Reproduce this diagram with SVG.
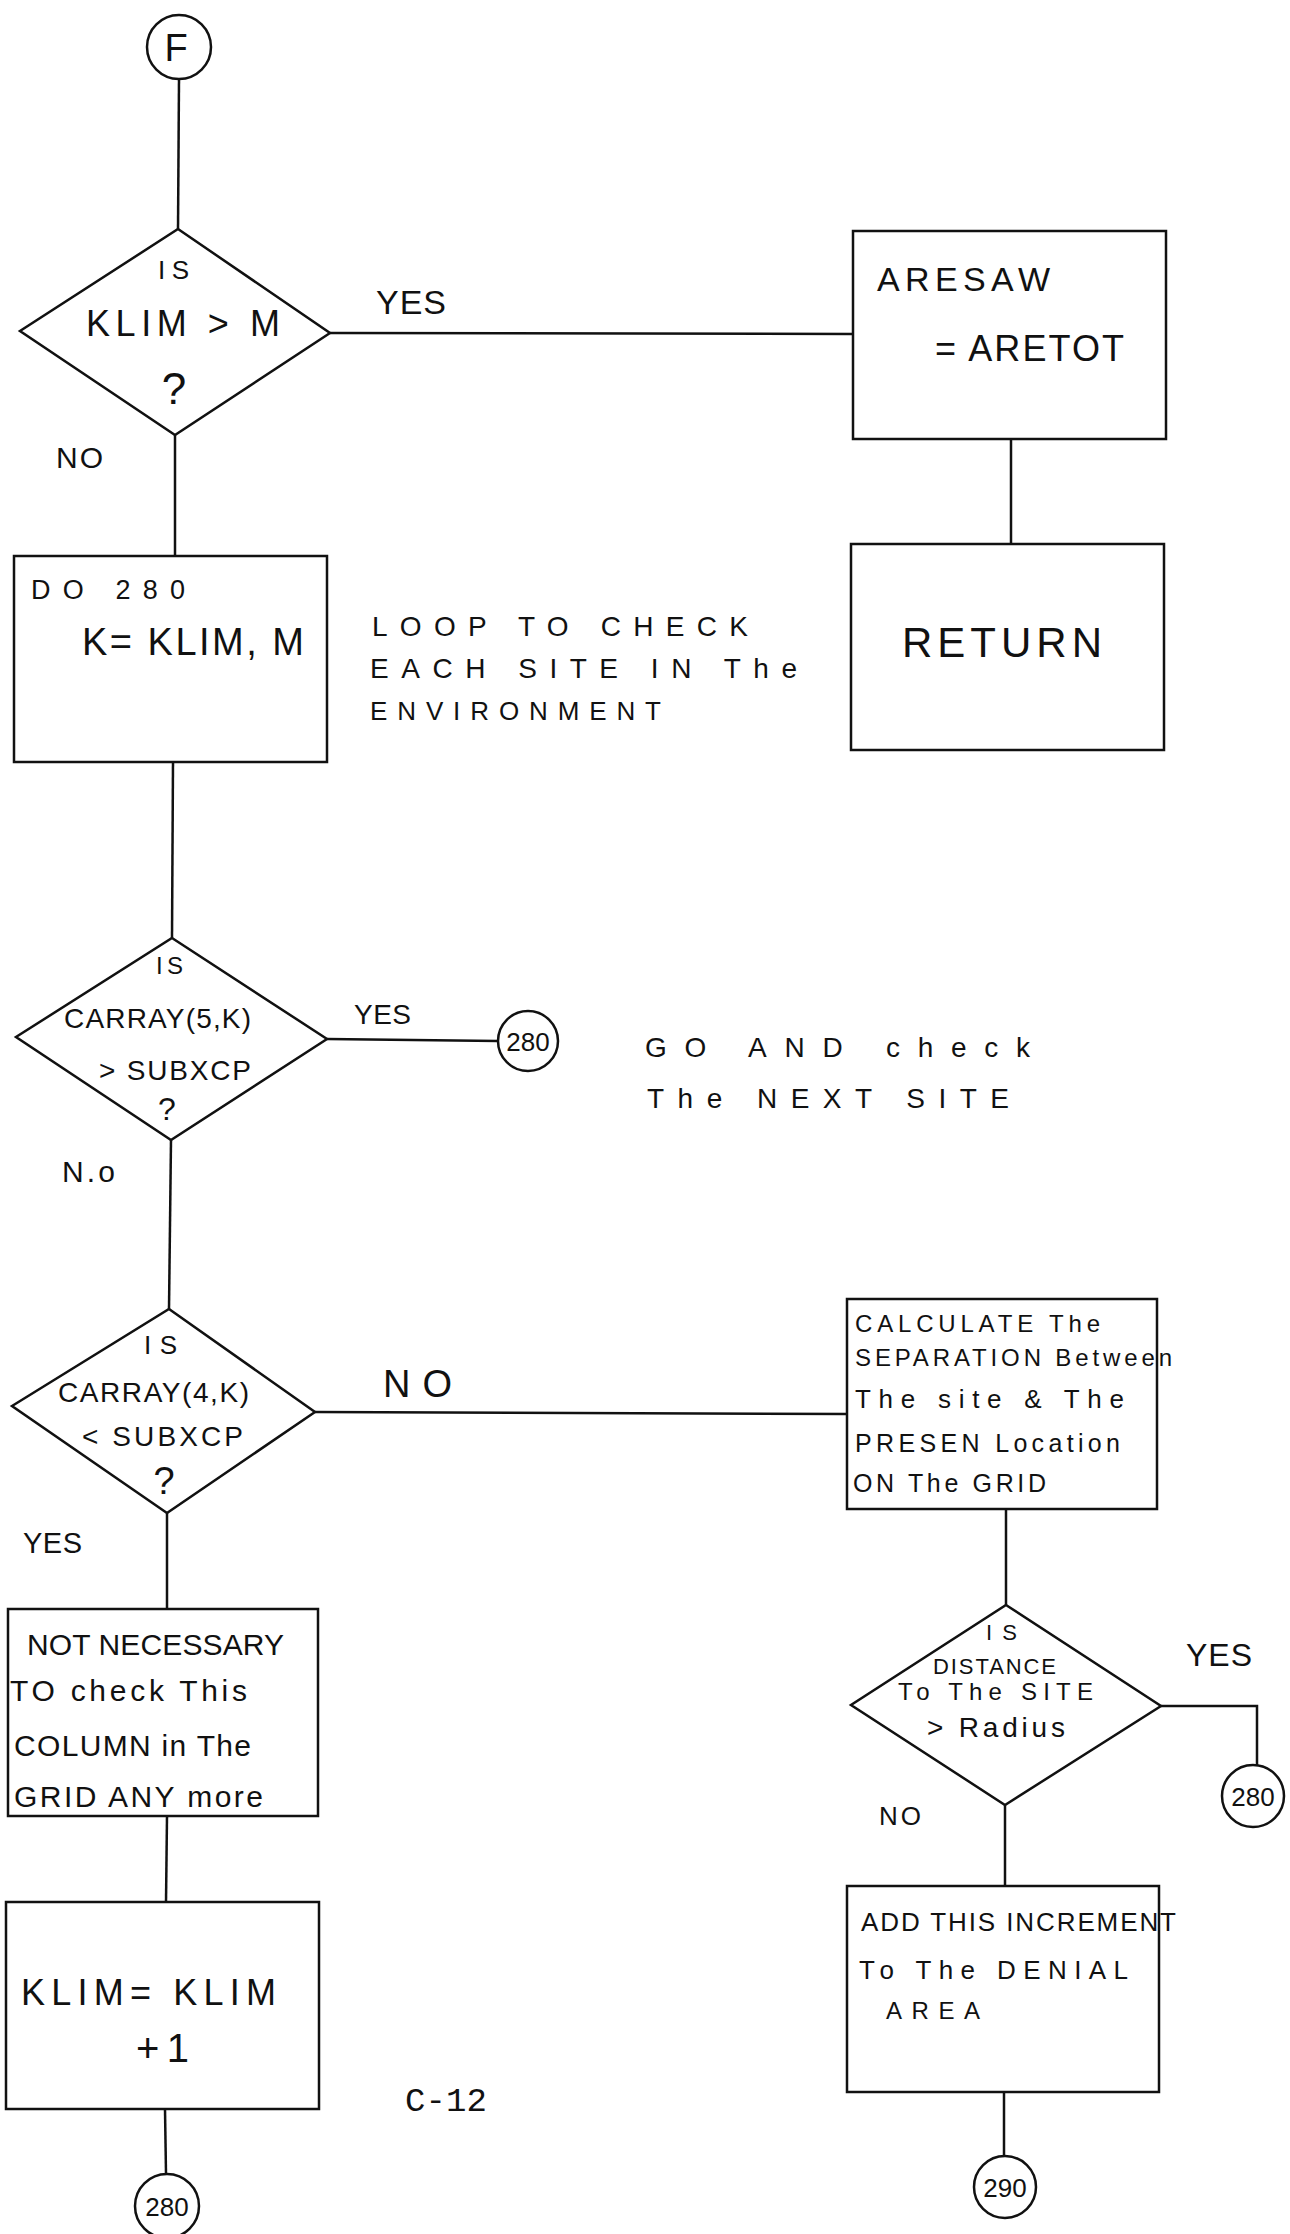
<svg xmlns="http://www.w3.org/2000/svg" width="1290" height="2234" viewBox="0 0 1290 2234">
<style>
.s{fill:none;stroke:#111;stroke-width:2.5}
.n{fill:#fff;stroke:#111;stroke-width:2.5}
text{font-family:"Liberation Sans",Arial,sans-serif;fill:#111}
.m{text-anchor:middle}
.mono{font-family:"Liberation Mono","Courier New",monospace}
</style>
<rect width="1290" height="2234" fill="#fff"/>
<g id="connectors" class="s">
<line x1="179" y1="79" x2="178" y2="229"/>
<line x1="175" y1="435" x2="175" y2="556"/>
<line x1="330" y1="333" x2="853" y2="334"/>
<line x1="1011" y1="439" x2="1011" y2="544"/>
<line x1="173" y1="762" x2="172" y2="938"/>
<line x1="327" y1="1039" x2="498" y2="1041"/>
<line x1="171" y1="1140" x2="169" y2="1309"/>
<line x1="315" y1="1412" x2="847" y2="1414"/>
<line x1="167" y1="1513" x2="167" y2="1609"/>
<line x1="1006" y1="1509" x2="1006" y2="1605"/>
<polyline points="1161,1706 1257,1706 1257,1765"/>
<line x1="1005" y1="1805" x2="1005" y2="1886"/>
<line x1="167" y1="1816" x2="166" y2="1902"/>
<line x1="1004" y1="2092" x2="1004" y2="2156"/>
<line x1="165" y1="2109" x2="166" y2="2174"/>
</g>
<g id="start-F">
<circle class="n" cx="179" cy="47" r="32"/>
<text x="176" y="61" class="m" font-size="38">F</text>
</g>
<g id="dec-klim">
<polygon class="n" points="178,229 330,333 175,435 20,331"/>
<text x="158" y="279" font-size="26" textLength="31">IS</text>
<text x="86" y="336" font-size="36" textLength="194">KLIM &gt; M</text>
<text x="174" y="404" class="m" font-size="44">?</text>
</g>
<text id="lbl-yes1" x="376" y="314" font-size="34" textLength="70">YES</text>
<text id="lbl-no1" x="56" y="468" font-size="30" textLength="47">NO</text>
<g id="box-aresaw">
<rect class="n" x="853" y="231" width="313" height="208"/>
<text x="877" y="291" font-size="34" textLength="173">ARESAW</text>
<text x="935" y="361" font-size="36" textLength="189">= ARETOT</text>
</g>
<g id="box-return">
<rect class="n" x="851" y="544" width="313" height="206"/>
<text x="902" y="657" font-size="42" textLength="200">RETURN</text>
</g>
<g id="box-do280">
<rect class="n" x="14" y="556" width="313" height="206"/>
<text x="31" y="599" font-size="27" textLength="154">DO 280</text>
<text x="82" y="655" font-size="38" textLength="222">K= KLIM, M</text>
</g>
<g id="note-loop">
<text x="372" y="636" font-size="28" textLength="376">LOOP TO CHECK</text>
<text x="370" y="678" font-size="28" textLength="427">EACH SITE IN The</text>
<text x="370" y="720" font-size="26" textLength="291">ENVIRONMENT</text>
</g>
<g id="dec-carray5">
<polygon class="n" points="172,938 327,1039 171,1140 16,1037"/>
<text x="156" y="974" font-size="24" textLength="27">IS</text>
<text x="64" y="1028" font-size="28" textLength="187">CARRAY(5,K)</text>
<text x="99" y="1080" font-size="28" textLength="152">&gt; SUBXCP</text>
<text x="167" y="1120" class="m" font-size="32">?</text>
</g>
<text id="lbl-yes2" x="354" y="1024" font-size="28" textLength="57">YES</text>
<g id="conn-280a">
<circle class="n" cx="528" cy="1041" r="30"/>
<text x="528" y="1051" class="m" font-size="26">280</text>
</g>
<g id="note-next">
<text x="645" y="1057" font-size="28" textLength="385">GO AND check</text>
<text x="647" y="1108" font-size="28" textLength="362">The NEXT SITE</text>
</g>
<text id="lbl-no2" x="62" y="1182" font-size="30" textLength="53">N.o</text>
<g id="dec-carray4">
<polygon class="n" points="169,1309 315,1412 167,1513 12,1406"/>
<text x="144" y="1354" font-size="26" textLength="33">IS</text>
<text x="58" y="1402" font-size="28" textLength="191">CARRAY(4,K)</text>
<text x="82" y="1446" font-size="28" textLength="161">&lt; SUBXCP</text>
<text x="164" y="1494" class="m" font-size="38">?</text>
</g>
<text id="lbl-no3" x="383" y="1397" font-size="38" textLength="69">NO</text>
<text id="lbl-yes3" x="23" y="1553" font-size="29" textLength="59">YES</text>
<g id="box-calc">
<rect class="n" x="847" y="1299" width="310" height="210"/>
<text x="855" y="1332" font-size="24" textLength="245">CALCULATE The</text>
<text x="855" y="1366" font-size="24" textLength="317">SEPARATION Between</text>
<text x="855" y="1408" font-size="26" textLength="269">The site &amp; The</text>
<text x="855" y="1452" font-size="25" textLength="265">PRESEN Location</text>
<text x="853" y="1492" font-size="25" textLength="193">ON The GRID</text>
</g>
<g id="box-notnec">
<rect class="n" x="8" y="1609" width="310" height="207"/>
<text x="27" y="1655" font-size="30" textLength="257">NOT NECESSARY</text>
<text x="10" y="1701" font-size="30" textLength="237">TO check This</text>
<text x="14" y="1756" font-size="30" textLength="237">COLUMN in The</text>
<text x="14" y="1807" font-size="30" textLength="249">GRID ANY more</text>
</g>
<g id="dec-distance">
<polygon class="n" points="1006,1605 1161,1706 1005,1805 851,1705"/>
<text x="986" y="1640" font-size="22" textLength="31">IS</text>
<text x="933" y="1674" font-size="22" textLength="123">DISTANCE</text>
<text x="898" y="1700" font-size="24" textLength="195">To The SITE</text>
<text x="927" y="1737" font-size="28" textLength="138">&gt; Radius</text>
</g>
<text id="lbl-yes4" x="1186" y="1666" font-size="32" textLength="66">YES</text>
<text id="lbl-no4" x="879" y="1825" font-size="26" textLength="42">NO</text>
<g id="conn-280b">
<circle class="n" cx="1253" cy="1796" r="31"/>
<text x="1253" y="1806" class="m" font-size="26">280</text>
</g>
<g id="box-add">
<rect class="n" x="847" y="1886" width="312" height="206"/>
<text x="861" y="1931" font-size="26" textLength="315">ADD THIS INCREMENT</text>
<text x="859" y="1979" font-size="26" textLength="269">To The DENIAL</text>
<text x="886" y="2019" font-size="24" textLength="94">AREA</text>
</g>
<g id="conn-290">
<circle class="n" cx="1005" cy="2187" r="31"/>
<text x="1005" y="2197" class="m" font-size="26">290</text>
</g>
<g id="box-klim">
<rect class="n" x="6" y="1902" width="313" height="207"/>
<text x="21" y="2005" font-size="36" textLength="255">KLIM= KLIM</text>
<text x="136" y="2062" font-size="40" textLength="53">+1</text>
</g>
<g id="conn-280c">
<circle class="n" cx="167" cy="2206" r="32"/>
<text x="167" y="2216" class="m" font-size="26">280</text>
</g>
<text id="page-number" x="405" y="2111" class="mono" font-size="34" textLength="82">C-12</text>
</svg>
